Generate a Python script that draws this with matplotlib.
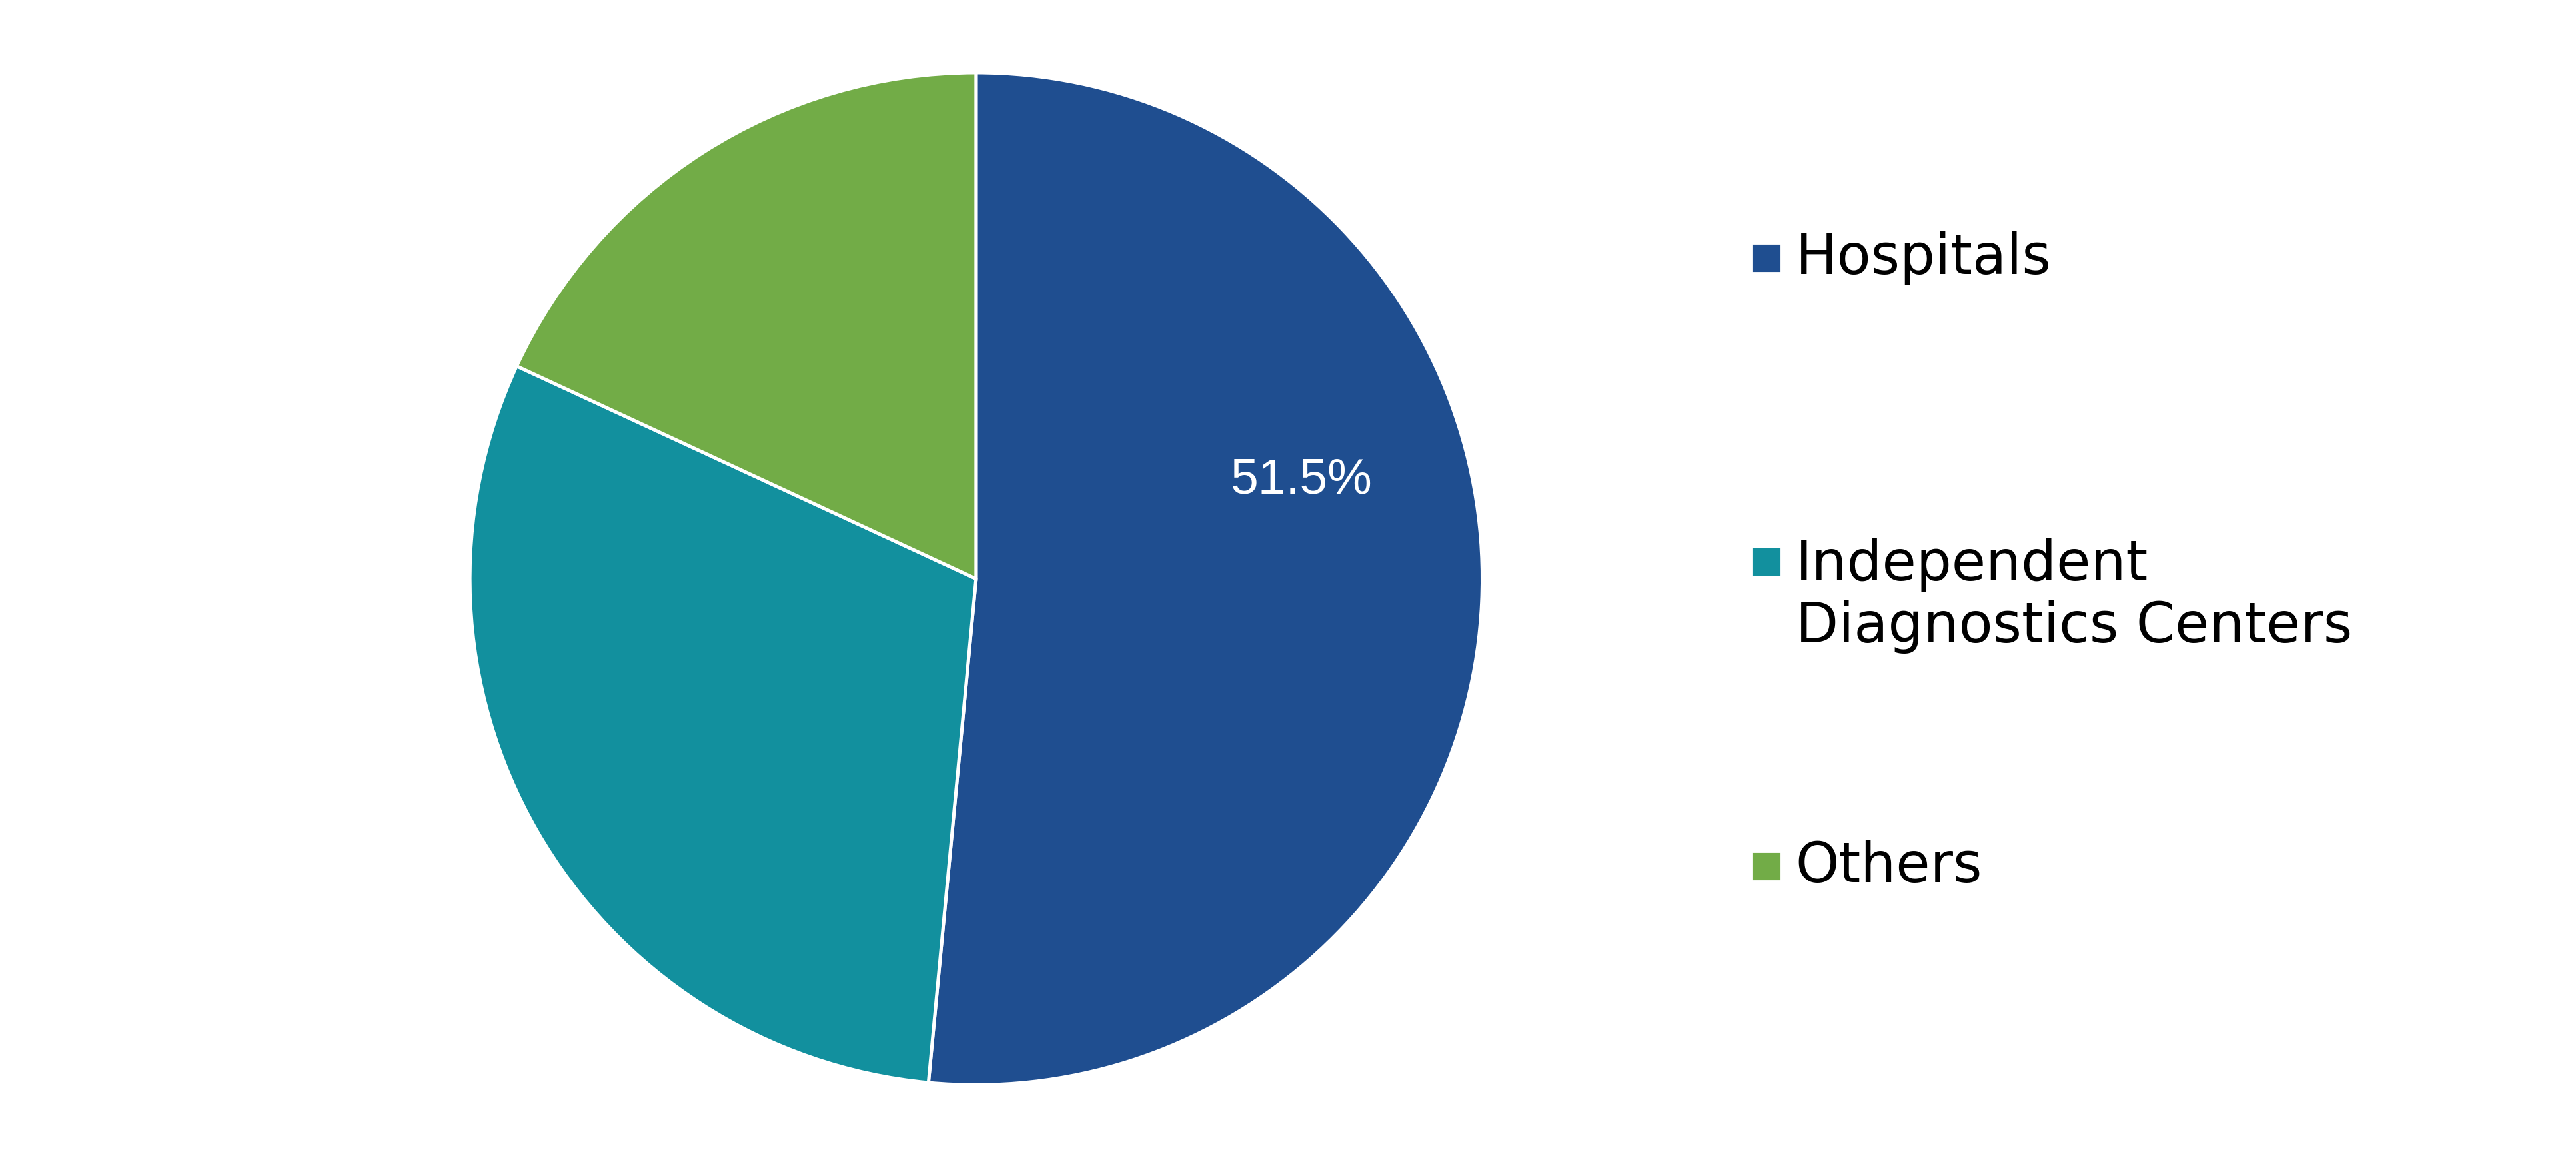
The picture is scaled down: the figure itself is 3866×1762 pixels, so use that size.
import matplotlib.pyplot as plt
from matplotlib.patches import Rectangle

# Share by end user (%)
segments = ["Hospitals", "Independent\nDiagnostics Centers", "Others"]
shares = [51.5, 30.4, 18.1]
colors = ["#1f4e90", "#12909e", "#72ac47"]

fig = plt.figure(figsize=(3866 / 300, 1762 / 300), dpi=300)
ax = fig.add_axes([0.379 - 0.1966, 0.507 - 0.4315, 0.393, 0.863])

ax.pie(shares, colors=colors, startangle=90, counterclock=False,
       wedgeprops={"edgecolor": "white", "linewidth": 1.2})
ax.set_xlim(-1, 1)
ax.set_ylim(-1, 1)
ax.set_aspect("equal")

# only the largest slice carries a label
ax.text(0.643, 0.195, f"{shares[0]}%", color="white", fontsize=18,
        family="Liberation Sans", ha="center", va="center")

# legend drawn by hand to match the spacing
legend_y = [0.780, 0.4926, 0.262]
for name, col, y in zip(segments, colors, legend_y):
    sq_y = y if "\n" not in name else 0.521
    fig.patches.append(Rectangle((0.681, sq_y - 0.0105), 0.0096, 0.021,
                                 transform=fig.transFigure, color=col))
    fig.text(0.697, y, name, fontsize=20, family="DejaVu Sans",
             ha="left", va="center", linespacing=1.2)

fig.savefig("out.png", dpi=300)
